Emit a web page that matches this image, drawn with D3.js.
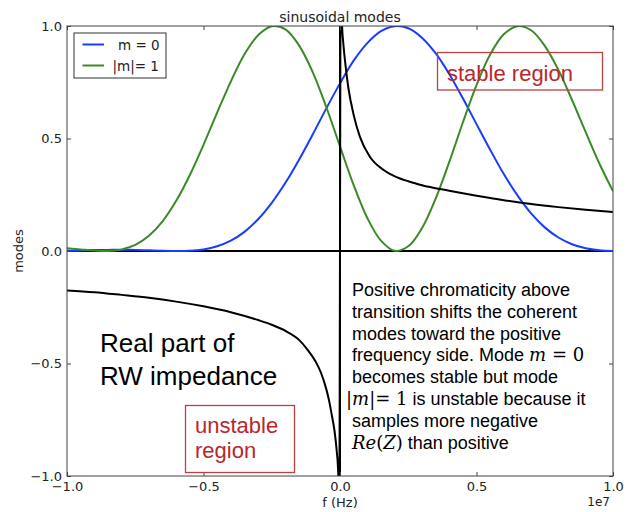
<!DOCTYPE html>
<html>
<head>
<meta charset="utf-8">
<script src="https://cdn.jsdelivr.net/npm/d3@7"></script>
<style>
  body { margin: 0; background: #fff; }
  svg { display: block; }
</style>
</head>
<body>
<svg id="chart"></svg>
<script>
const modeFreq = [-1.00, -0.95, -0.90, -0.85, -0.80, -0.75, -0.70, -0.65, -0.60, -0.55,
  -0.50, -0.45, -0.40, -0.35, -0.30, -0.25, -0.20, -0.15, -0.10, -0.05,
  0.00, 0.05, 0.10, 0.15, 0.20, 0.25, 0.30, 0.35, 0.40, 0.45,
  0.50, 0.55, 0.60, 0.65, 0.70, 0.75, 0.80, 0.85, 0.90, 0.95, 1.00];

const m0 = [0.001, 0.002, 0.004, 0.005, 0.005, 0.005, 0.003, 0.001, 0.000, 0.001,
  0.007, 0.021, 0.046, 0.085, 0.141, 0.214, 0.303, 0.406, 0.518, 0.634,
  0.745, 0.846, 0.924, 0.977, 0.999, 0.990, 0.948, 0.879, 0.787, 0.679,
  0.564, 0.450, 0.342, 0.247, 0.167, 0.105, 0.060, 0.030, 0.012, 0.003, 0.000];

const m1 = [0.012, 0.007, 0.002, 0.000, 0.007, 0.027, 0.068, 0.132, 0.223, 0.338,
  0.472, 0.615, 0.753, 0.874, 0.959, 0.999, 0.985, 0.914, 0.795, 0.639,
  0.465, 0.293, 0.147, 0.046, 0.001, 0.021, 0.101, 0.232, 0.395, 0.571,
  0.737, 0.873, 0.963, 0.999, 0.981, 0.912, 0.805, 0.671, 0.528, 0.389, 0.266];

// real part of the resistive wall impedance (x in units of 1e7 Hz)
const rwFreq = [-1.0, -0.9, -0.8, -0.7, -0.6, -0.5, -0.4, -0.3, -0.25, -0.2,
  -0.15, -0.12, -0.09, -0.07, -0.05, -0.04, -0.03, -0.02, -0.012, -0.008, -0.005, -0.003,
  0.003, 0.005, 0.008, 0.012, 0.018, 0.03, 0.05, 0.073, 0.11, 0.16,
  0.22, 0.25, 0.3, 0.4, 0.5, 0.6, 0.7, 0.8, 0.9, 1.0];
const rwRe = [-0.175, -0.183, -0.195, -0.208, -0.225, -0.246, -0.272, -0.307, -0.328, -0.355,
  -0.395, -0.437, -0.49, -0.54, -0.615, -0.665, -0.73, -0.8, -0.889, -0.95, -1.05, -1.2,
  1.3, 1.1, 0.99, 0.925, 0.849, 0.73, 0.605, 0.507, 0.418, 0.36,
  0.322, 0.31, 0.292, 0.268, 0.246, 0.226, 0.209, 0.195, 0.183, 0.173];

const xTicks = [-1e7, -0.5e7, 0, 0.5e7, 1e7];
const yTicks = [-1, -0.5, 0, 0.5, 1];
const legendLabels = ['m = 0', '|m|= 1'];

const width = 629;
const height = 512;
const margin = { top: 26, right: 16, bottom: 36, left: 67 };

const blue = '#1a3cff';
const green = '#3a8a2a';
const red = '#b8282a';
const mpFont = '"DejaVu Sans", sans-serif';
const arial = '"Liberation Sans", Arial, sans-serif';
const serif = '"DejaVu Serif", "Liberation Serif", serif';

const svg = d3.select('#chart')
  .attr('width', width)
  .attr('height', height);

const x = d3.scaleLinear()
  .domain([-1e7, 1e7])
  .range([margin.left, width - margin.right]);

const y = d3.scaleLinear()
  .domain([-1, 1])
  .range([height - margin.bottom, margin.top]);

svg.append('clipPath').attr('id', 'plot')
  .append('rect')
  .attr('x', x(-1e7)).attr('y', y(1))
  .attr('width', x(1e7) - x(-1e7))
  .attr('height', y(-1) - y(1));

const plot = svg.append('g').attr('clip-path', 'url(#plot)');

// zero line
plot.append('line')
  .attr('x1', x(-1e7)).attr('x2', x(1e7))
  .attr('y1', y(0)).attr('y2', y(0))
  .attr('stroke', '#000').attr('stroke-width', 2);

const modeLine = d3.line()
  .x((d, i) => x(modeFreq[i] * 1e7))
  .y(d => y(d))
  .curve(d3.curveCatmullRom);

plot.append('path').datum(m0)
  .attr('d', modeLine)
  .attr('fill', 'none').attr('stroke', blue).attr('stroke-width', 2);

plot.append('path').datum(m1)
  .attr('d', modeLine)
  .attr('fill', 'none').attr('stroke', green).attr('stroke-width', 2);

const rwLine = d3.line()
  .x((d, i) => x(rwFreq[i] * 1e7))
  .y(d => y(d))
  .curve(d3.curveMonotoneX);

plot.append('path').datum(rwRe)
  .attr('d', rwLine)
  .attr('fill', 'none').attr('stroke', '#000').attr('stroke-width', 2);

// vertical line at f = 0
plot.append('line')
  .attr('x1', x(0)).attr('x2', x(0))
  .attr('y1', y(-1)).attr('y2', y(1))
  .attr('stroke', '#000').attr('stroke-width', 2);

// axes, ticks pointing inward on all four sides
const fmtX = d => d3.format('.1f')(d / 1e7);
const fmtY = d3.format('.1f');

const axes = [
  svg.append('g').attr('transform', `translate(0,${y(-1)})`)
    .call(d3.axisBottom(x).tickValues(xTicks).tickFormat(fmtX).tickSizeInner(-4).tickSizeOuter(0).tickPadding(6)),
  svg.append('g').attr('transform', `translate(0,${y(1)})`)
    .call(d3.axisTop(x).tickValues(xTicks).tickFormat('').tickSizeInner(-4).tickSizeOuter(0)),
  svg.append('g').attr('transform', `translate(${x(-1e7)},0)`)
    .call(d3.axisLeft(y).tickValues(yTicks).tickFormat(fmtY).tickSizeInner(-4).tickSizeOuter(0).tickPadding(5)),
  svg.append('g').attr('transform', `translate(${x(1e7)},0)`)
    .call(d3.axisRight(y).tickValues(yTicks).tickFormat('').tickSizeInner(-4).tickSizeOuter(0))
];
axes.forEach(g => {
  g.select('.domain').remove();
  g.selectAll('line').attr('stroke', '#444');
  g.selectAll('text').attr('font-family', mpFont).attr('font-size', 13).attr('fill', '#222');
});

svg.append('rect')
  .attr('x', x(-1e7)).attr('y', y(1))
  .attr('width', x(1e7) - x(-1e7))
  .attr('height', y(-1) - y(1))
  .attr('fill', 'none').attr('stroke', '#444').attr('stroke-width', 1);

// titles
svg.append('text')
  .attr('x', x(0)).attr('y', 22)
  .attr('text-anchor', 'middle')
  .attr('font-family', mpFont).attr('font-size', 14).attr('fill', '#222')
  .text('sinusoidal modes');

svg.append('text')
  .attr('x', x(0)).attr('y', 507)
  .attr('text-anchor', 'middle')
  .attr('font-family', mpFont).attr('font-size', 13).attr('fill', '#222')
  .text('f (Hz)');

svg.append('text')
  .attr('x', 610).attr('y', 506)
  .attr('text-anchor', 'end')
  .attr('font-family', mpFont).attr('font-size', 12).attr('fill', '#222')
  .text('1e7');

svg.append('text')
  .attr('transform', `translate(23,${y(0)}) rotate(-90)`)
  .attr('text-anchor', 'middle')
  .attr('font-family', mpFont).attr('font-size', 13).attr('fill', '#222')
  .text('modes');

// legend
const legend = svg.append('g').attr('transform', 'translate(74,33)');
legend.append('rect')
  .attr('width', 92).attr('height', 45)
  .attr('fill', '#fff').attr('stroke', '#333').attr('stroke-width', 1);
[blue, green].forEach((c, i) => {
  const row = legend.append('g').attr('transform', `translate(0,${11.5 + i * 21})`);
  row.append('line')
    .attr('x1', 8.5).attr('x2', 30)
    .attr('stroke', c).attr('stroke-width', 2);
  row.append('text')
    .attr('x', i === 0 ? 44 : 38.5).attr('y', 5)
    .attr('font-family', mpFont).attr('font-size', 13.5).attr('fill', '#222')
    .text(legendLabels[i]);
});

// region boxes
svg.append('rect')
  .attr('x', 437.5).attr('y', 52.5).attr('width', 165).attr('height', 37.5)
  .attr('fill', 'none').attr('stroke', '#c04040').attr('stroke-width', 1.3);
svg.append('text')
  .attr('x', 447).attr('y', 81)
  .attr('font-family', arial).attr('font-size', 22).attr('fill', red)
  .text('stable region');

svg.append('rect')
  .attr('x', 185.5).attr('y', 405.5).attr('width', 109).attr('height', 67)
  .attr('fill', 'none').attr('stroke', '#c04040').attr('stroke-width', 1.3);
const unst = svg.append('text')
  .attr('font-family', arial).attr('font-size', 22).attr('fill', red);
unst.append('tspan').attr('x', 195).attr('y', 433).text('unstable');
unst.append('tspan').attr('x', 195).attr('y', 458).text('region');

// big label
const realPart = svg.append('text')
  .attr('font-family', arial).attr('font-size', 26).attr('fill', '#000');
realPart.append('tspan').attr('x', 100).attr('y', 352).text('Real part of');
realPart.append('tspan').attr('x', 100).attr('y', 385).text('RW impedance');

// explanation
const note = svg.append('text')
  .attr('font-family', arial).attr('font-size', 18).attr('fill', '#000');
const noteLines = [
  [['Positive chromaticity above', 0]],
  [['transition shifts the coherent', 0]],
  [['modes toward the positive', 0]],
  [['frequency side. Mode ', 0], ['m', 2], [' = 0', 1]],
  [['becomes stable but mode', 0]],
  [['|', 1], ['m', 2], ['|= 1', 1], [' is unstable because it', 0]],
  [['samples more negative', 0]],
  [['Re', 2], ['(', 1], ['Z', 2], [')', 1], [' than positive', 0]]
];
noteLines.forEach((parts, i) => {
  parts.forEach(([t, kind], j) => {
    const s = note.append('tspan').text(t);
    if (j === 0) s.attr('x', i === 5 ? 346 : 352).attr('y', 296 + i * 21.8);
    if (kind > 0) s.attr('font-family', serif);
    if (kind === 2) s.attr('font-style', 'italic');
  });
});
</script>
</body>
</html>
